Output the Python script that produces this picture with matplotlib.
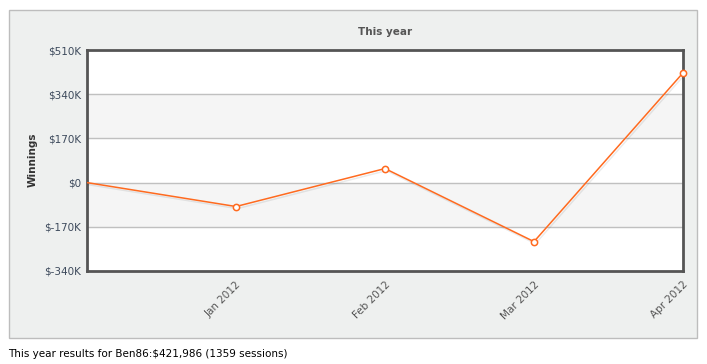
import matplotlib
matplotlib.use("Agg")
import matplotlib.pyplot as plt
from matplotlib.patches import Rectangle
import matplotlib.patheffects as pe

# Data
periods = ["", "Jan 2012", "Feb 2012", "Mar 2012", "Apr 2012"]
winnings_k = [0, -92, 54, -227, 422]
ytick_vals = [-340, -170, 0, 170, 340, 510]
ytick_labels = ["$-340K", "$-170K", "$0", "$170K", "$340K", "$510K"]
title = "This year"
ylabel = "Winnings"
footer = "This year results for Ben86:$421,986 (1359 sessions)"

W, H = 707, 364
fig = plt.figure(figsize=(W / 100, H / 100), dpi=100)
fig.patch.set_facecolor("white")

# outer panel
fig.patches.append(Rectangle((9 / W, 1 - 338 / H), (697 - 9) / W, (338 - 10) / H,
                             transform=fig.transFigure, facecolor="#eef0ef",
                             edgecolor="#bdbdbd", linewidth=1, zorder=-10))

ax = fig.add_axes([87 / W, 1 - 271 / H, (683 - 87) / W, (271 - 50) / H])
ax.set_zorder(1)
ax.set_facecolor("white")
ax.set_xlim(0, len(periods) - 1)
ax.set_ylim(ytick_vals[0], ytick_vals[-1])

# alternating bands
for i in range(len(ytick_vals) - 1):
    if i % 2 == 1:
        ax.axhspan(ytick_vals[i], ytick_vals[i + 1], color="#f5f5f5", zorder=0)
for v in ytick_vals[1:-1]:
    ax.axhline(v, color="#c0c0c0", linewidth=1, zorder=1)

x = list(range(len(periods)))
ax.plot(x, winnings_k, color="#ff6a1f", linewidth=1.1, zorder=3,
        path_effects=[pe.SimpleLineShadow(offset=(1, -1.5), shadow_color="#000000", alpha=0.08),
                      pe.Normal()])
ax.plot(x[1:], winnings_k[1:], linestyle="none", marker="o", markersize=4.5,
        markerfacecolor="white", markeredgecolor="#ff6a1f", markeredgewidth=1.1,
        zorder=4, clip_on=False)

ax.set_yticks(ytick_vals)
ax.set_yticklabels(ytick_labels, fontsize=7.5, color="#3d4a5c")
ax.set_xticks(x[1:])
ax.set_xticklabels(periods[1:], rotation=45, ha="right", va="top",
                   rotation_mode="anchor", fontsize=7.5, color="#555555")
ax.tick_params(axis="both", length=0, pad=4)
ax.tick_params(axis="x", pad=6)

for s in ax.spines.values():
    s.set_color("#555555")
    s.set_linewidth(2)

fig.text(385 / W, 1 - 32 / H, title, ha="center", va="center",
         fontsize=7.5, fontweight="bold", color="#555555")
fig.text(33 / W, 1 - 160 / H, ylabel, ha="center", va="center", rotation=90,
         fontsize=7.5, fontweight="bold", color="#333333")
fig.text(8 / W, 1 - 354 / H, footer, ha="left", va="center",
         fontsize=7.5, color="#000000")

fig.savefig("out.png", dpi=100, facecolor="white")
